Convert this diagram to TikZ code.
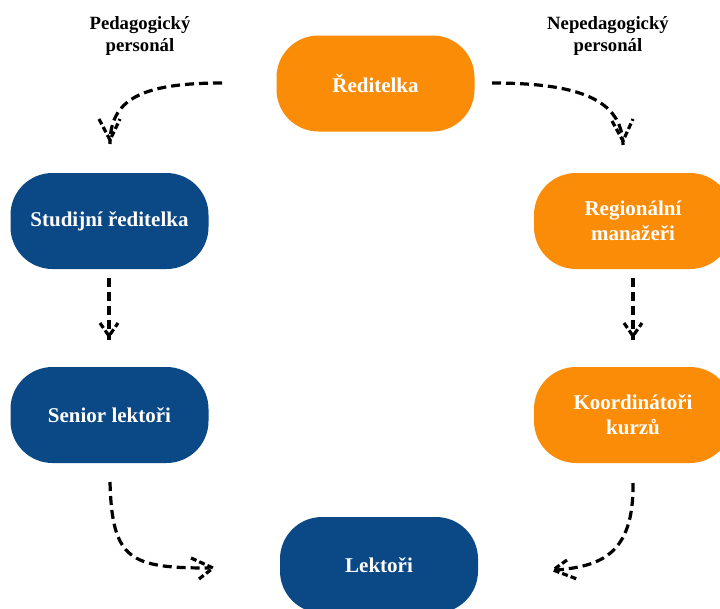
\documentclass[tikz,border=0pt]{standalone}
\usepackage{fontspec}
\setmainfont{Liberation Serif}
\usetikzlibrary{positioning}

\definecolor{boxorange}{RGB}{250,140,8}
\definecolor{boxblue}{RGB}{10,72,134}

\tikzset{
  orgbox/.style={rounded corners=42pt, minimum width=198pt, minimum height=96pt,
    inner sep=0pt, text=white, align=center,
    font=\fontsize{21}{25}\selectfont\bfseries},
  orangebox/.style={orgbox, fill=boxorange},
  bluebox/.style={orgbox, fill=boxblue},
  grouplabel/.style={align=center, font=\fontsize{18.7}{22}\selectfont\bfseries},
  link/.style={draw=black, line width=3.2pt, dash pattern=on 9pt off 5pt},
  linkhead/.style={draw=black, line width=3.2pt, dash pattern=on 6pt off 3pt}
}

% dashed open arrow head: arm end, tip, arm end
\newcommand{\openhead}[3]{\path[linkhead] #1 -- #2 -- #3;}

\begin{document}
\begin{tikzpicture}[x=1pt, y=-1pt]
  \useasboundingbox (0,0) rectangle (720,608);

  % boxes
  \node[orangebox] (dir)    at (375.5,83.5)  {Ředitelka};
  \node[bluebox]   (study)  at (109.5,221)   {Studijní ředitelka};
  \node[bluebox]   (senior) at (109.5,415)   {Senior lektoři};
  \node[orangebox] (region) at (633,221)     {Regionální\\manažeři};
  \node[orangebox] (coord)  at (633,415)     {Koordinátoři\\kurzů};
  \node[bluebox]   (lect)   at (379,565)     {Lektoři};

  % group labels
  \node[grouplabel] (ped)    at (140,36) {Pedagogický\\personál};
  \node[grouplabel] (nonped) at (608,36) {Nepedagogický\\personál};

  % connector end points
  \coordinate (a1s) at (222,83);   \coordinate (a1t) at (110,140);
  \coordinate (a2s) at (492,83);   \coordinate (a2t) at (623,141);
  \coordinate (a3s) at (109,278);  \coordinate (a3t) at (109,336);
  \coordinate (a4s) at (633,278);  \coordinate (a4t) at (633,336);
  \coordinate (a5s) at (110,482);  \coordinate (a5t) at (213,568);
  \coordinate (a6s) at (633,483);  \coordinate (a6t) at (553,570);

  % Ředitelka -> Studijní ředitelka
  \path[link] (a1s) .. controls (140,83) and (110,100) .. ([yshift=-4pt]a1t);
  \openhead{([shift={(-11,-21)}]a1t)}{(a1t)}{([shift={(10,-21)}]a1t)}

  % Ředitelka -> Regionální manažeři
  \path[link] (a2s) .. controls (580,83) and (622,100) .. ([yshift=-4pt]a2t);
  \openhead{([shift={(-11,-20)}]a2t)}{(a2t)}{([shift={(10,-22)}]a2t)}

  % Studijní ředitelka -> Senior lektoři
  \path[link] (a3s) -- ([yshift=-4pt]a3t);
  \openhead{([shift={(-9,-13)}]a3t)}{(a3t)}{([shift={(9,-13)}]a3t)}

  % Regionální manažeři -> Koordinátoři kurzů
  \path[link] (a4s) -- ([yshift=-4pt]a4t);
  \openhead{([shift={(-9,-13)}]a4t)}{(a4t)}{([shift={(9,-13)}]a4t)}

  % Senior lektoři -> Lektoři
  \path[link] (a5s) .. controls (112,560) and (130,568) .. ([xshift=-4pt]a5t);
  \openhead{([shift={(-22,-10)}]a5t)}{(a5t)}{([shift={(-14,11)}]a5t)}

  % Koordinátoři kurzů -> Lektoři
  \path[link] (a6s) .. controls (634,555) and (600,566) .. ([xshift=4pt]a6t);
  \openhead{([shift={(14,-10)}]a6t)}{(a6t)}{([shift={(24,9)}]a6t)}
\end{tikzpicture}
\end{document}
